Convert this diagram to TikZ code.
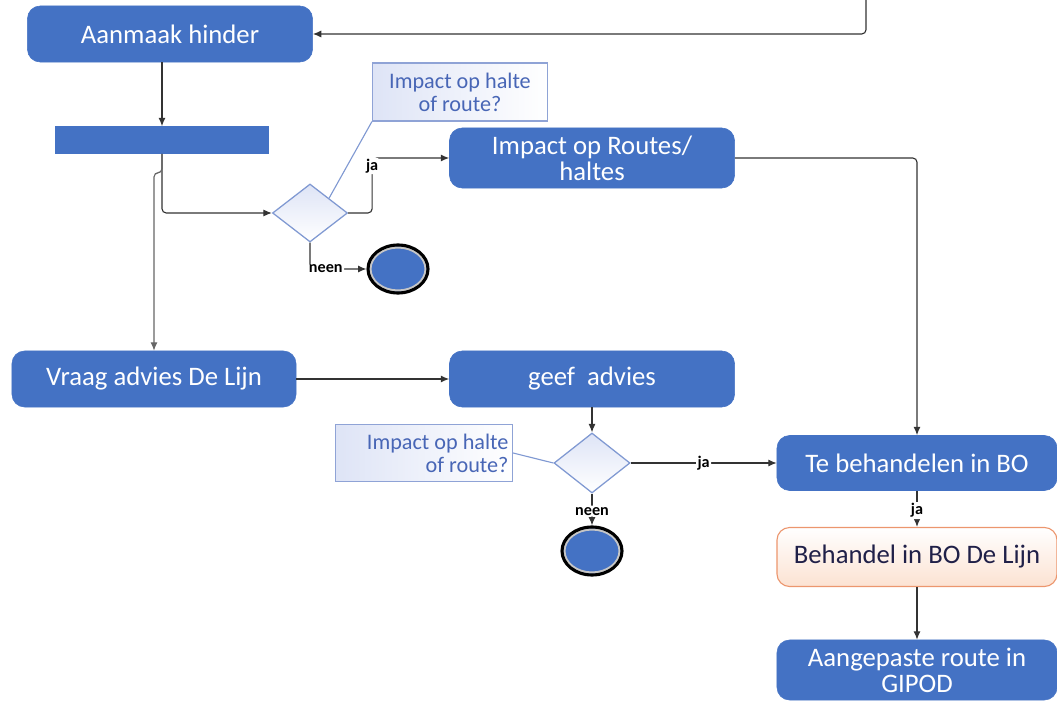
\documentclass[tikz,border=0pt]{standalone}
\usepackage{fontspec}
\setmainfont{Carlito}
\usetikzlibrary{arrows.meta, shapes.geometric}
\definecolor{myblue}{RGB}{68,114,196}
\definecolor{noteedge}{RGB}{143,163,214}
\definecolor{notetext}{RGB}{72,102,182}
\definecolor{notefill}{RGB}{222,228,246}
\definecolor{peachfill}{RGB}{252,226,210}
\definecolor{peachedge}{RGB}{236,150,110}
\definecolor{darktext}{RGB}{32,32,72}

\begin{document}
\begin{tikzpicture}[x=0.025cm, y=-0.025cm,
    actbox/.style={rectangle, rounded corners=9pt, fill=myblue, draw=myblue,
        text=white, align=center, inner sep=0pt,
        font=\fontsize{19}{18.5}\selectfont},
    notebox/.style={rectangle, draw=noteedge, line width=0.8pt, left color=notefill,
        right color=white, text=notetext, inner sep=0pt,
        font=\fontsize{15.8}{16.5}\selectfont},
    decision/.style={diamond, draw=noteedge!80!myblue, line width=0.9pt,
        top color=notefill, bottom color=white, inner sep=0pt},
    finalnode/.style={ellipse, fill=myblue, draw=black, line width=2.2pt,
        minimum width=1.5cm, minimum height=1.2cm,
        path picture={\draw[gray!45, line width=1.6pt]
            (path picture bounding box.center) ellipse (0.69cm and 0.54cm);}},
    conn/.style={draw=black!80, line width=0.8pt, rounded corners=3pt,
        -{Latex[length=6pt,width=5pt]}},
    notelink/.style={draw=noteedge!80!myblue, line width=0.8pt},
    lbl/.style={fill=white, inner sep=1pt, text=black,
        font=\fontsize{11.5}{12}\selectfont\bfseries}]

    \useasboundingbox (0,0) rectangle (1057,701);

    % Activity boxes
    \node[actbox, minimum width=7.125cm, minimum height=1.4cm] (hinder) at (170,34) {Aanmaak hinder};
    \node[rectangle, fill=myblue, minimum width=5.35cm, minimum height=0.675cm] (bar) at (162,140) {};
    \node[actbox, minimum width=7.125cm, minimum height=1.5cm] (impact) at (592,158) {Impact op Routes/\\haltes};
    \node[actbox, minimum width=7.1cm, minimum height=1.4cm] (vraag) at (154,379) {Vraag advies De Lijn};
    \node[actbox, minimum width=7.125cm, minimum height=1.4cm] (geef) at (592,379) {geef\ \ advies};
    \node[actbox, minimum width=7cm, minimum height=1.375cm] (tebeh) at (917,463) {Te behandelen in BO};
    \node[actbox, fill=none, top color=white, bottom color=peachfill, draw=peachedge,
        line width=0.8pt, text=darktext, minimum width=7cm, minimum height=1.475cm] (behandel) at (917,557) {Behandel in BO De Lijn};
    \node[actbox, minimum width=7cm, minimum height=1.5cm] (gipod) at (917,670) {Aangepaste route in\\GIPOD};

    % Decisions, notes and final states
    \node[decision, minimum width=1.875cm, minimum height=1.45cm] (dec1) at (310,213) {};
    \node[decision, minimum width=1.9cm, minimum height=1.5cm] (dec2) at (592,463) {};
    \node[notebox, align=center, minimum width=4.375cm, minimum height=1.45cm] (note1) at (460,92) {Impact op halte\\of route?};
    \node[notebox, align=flush right, text width=4.225cm, inner xsep=0.1cm, minimum height=1.425cm] (note2) at (424,453) {Impact op halte\\of route?};
    \node[finalnode] (end1) at (398,269) {};
    \node[finalnode] (end2) at (592,551) {};

    % Connectors
    \coordinate (topin) at (866,0);
    \draw[conn] (topin) |- (hinder.east);
    \draw[conn] (hinder.south -| bar) -- (bar.north);
    \draw[conn] (bar.south) |- (dec1.west);
    \draw[conn, draw=black!60] (bar.south) -- ++(0,19) -| (vraag.north);
    \draw[conn] (dec1.east) -- ++(24,0) |- node[lbl, pos=0.43] {ja} (impact.west);
    \draw[conn] (dec1.south) |- node[lbl, pos=0.64] {neen} (end1.west);
    \draw[notelink] (dec1.north east) -- (note1.south west);

    \draw[conn] (vraag.east) -- (geef.west);
    \draw[conn] (geef.south) -- (dec2.north);
    \draw[notelink] (note2.east) -- (dec2.west);
    \draw[conn] (dec2.east) -- node[lbl] {ja} (tebeh.west);
    \draw[conn] (dec2.south) -- node[lbl, pos=0.55] {neen} (end2.north);

    \draw[conn] (impact.east) -| (tebeh.north);
    \draw[conn] (tebeh.south) -- node[lbl, pos=0.55] {ja} (behandel.north);
    \draw[conn] (behandel.south) -- (gipod.north);
\end{tikzpicture}
\end{document}
